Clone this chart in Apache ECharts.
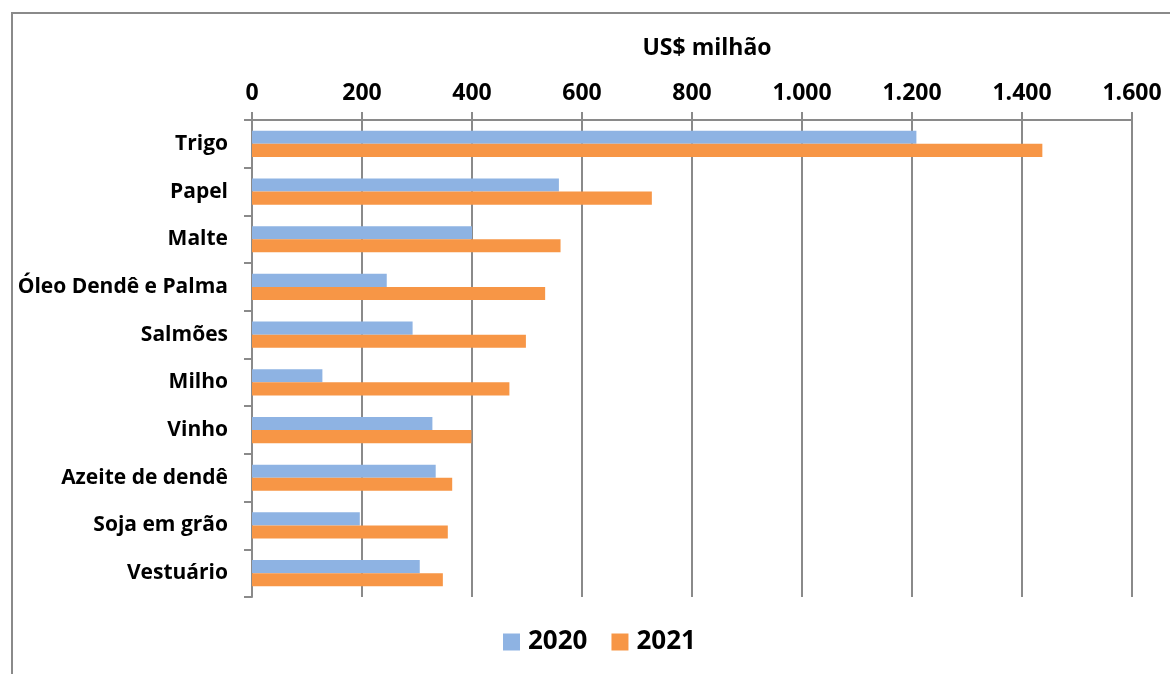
<!DOCTYPE html>
<html>
<head>
<meta charset="utf-8">
<script src="https://cdn.jsdelivr.net/npm/echarts@6/dist/echarts.min.js"></script>
<style>
  html, body { margin: 0; padding: 0; background: #fff; }
  #main { width: 1170px; height: 674px; }
</style>
</head>
<body>
<div id="main"></div>
<script>
// categorias (de cima para baixo)
var categories = ["Trigo", "Papel", "Malte", "Óleo Dendê e Palma", "Salmões", "Milho", "Vinho", "Azeite de dendê", "Soja em grão", "Vestuário"];
// valores US$ milhão
var values2020 = [1208, 558, 400, 245, 292, 128, 328, 334, 196, 305];
var values2021 = [1437, 727, 561, 533, 498, 468, 399, 364, 356, 347];

var font = "'Open Sans', sans-serif";

(function () {
  var mychart = echarts.init(document.getElementById("main"));
  var option = {
    animation: false,
    textStyle: { fontFamily: font },
    // moldura
    graphic: [
      {
        type: "rect",
        shape: { x: 12, y: 13, width: 1170, height: 680 },
        style: { fill: "none", stroke: "#8a8a8a", lineWidth: 2 },
        silent: true,
      },
    ],
    title: {
      text: "US$ milhão",
      left: 702,
      top: 32,
      textAlign: "center",
      textStyle: { fontFamily: font, fontSize: 23, fontWeight: "bold", color: "#000" },
    },
    legend: {
      bottom: 14,
      left: 498,
      itemWidth: 17,
      itemHeight: 17,
      itemGap: 24,
      icon: "rect",
      textStyle: { fontFamily: font, fontSize: 26, fontWeight: "bold", color: "#000", padding: [0, 0, 0, 3] },
    },
    grid: {
      left: 252,
      right: 38,
      top: 120,
      bottom: 77,
    },
    xAxis: {
      type: "value",
      position: "top",
      min: 0,
      max: 1600,
      interval: 200,
      axisLine: { show: true, lineStyle: { color: "#8a8a8a", width: 2 } },
      axisTick: { show: true, length: 8, lineStyle: { color: "#8a8a8a", width: 2 } },
      splitLine: { show: true, lineStyle: { color: "#8a8a8a", width: 2 } },
      axisLabel: {
        margin: 15,
        fontFamily: font,
        fontSize: 23,
        fontWeight: "bold",
        color: "#000",
        formatter: function (v) {
          return v >= 1000 ? Math.floor(v / 1000) + "." + String(v % 1000).padStart(3, "0") : String(v);
        },
      },
    },
    yAxis: {
      type: "category",
      inverse: true,
      data: categories,
      axisLine: { show: true, lineStyle: { color: "#8a8a8a", width: 2 } },
      axisTick: { show: true, length: 8, lineStyle: { color: "#8a8a8a", width: 2 } },
      axisLabel: {
        margin: 24,
        fontFamily: font,
        fontSize: 21,
        fontWeight: "bold",
        color: "#000",
      },
    },
    series: [
      {
        name: "2020",
        type: "bar",
        data: values2020,
        barGap: "0%",
        barCategoryGap: "45%",
        itemStyle: { color: "#8eb3e3" },
      },
      {
        name: "2021",
        type: "bar",
        data: values2021,
        itemStyle: { color: "#f79646" },
      },
    ],
  };
  mychart.setOption(option);
})();
</script>
</body>
</html>
